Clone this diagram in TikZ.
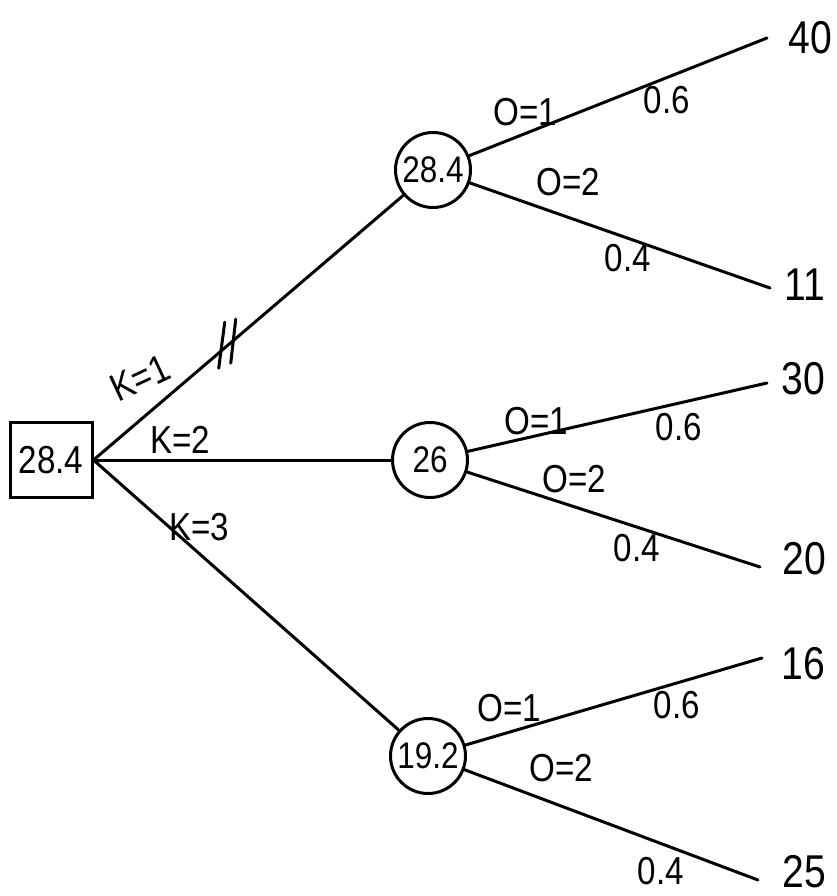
\documentclass[tikz,border=0pt]{standalone}
\usepackage{fontspec}
\setmainfont{Liberation Sans}[FakeStretch=0.85]
\begin{document}
\begin{tikzpicture}[x=1pt,y=-1pt,
  ink/.style={line width=3pt, line cap=round, line join=round},
  chance/.style={circle, draw, line width=3pt, minimum size=75pt, inner sep=0pt, font=\fontsize{37}{40}\selectfont},
  decision/.style={rectangle, draw, line width=3pt, minimum width=82pt, minimum height=75pt, inner sep=0pt, font=\fontsize{39}{42}\selectfont},
  payoff/.style={inner sep=0pt, font=\fontsize{46}{50}\selectfont},
  lbl/.style={inner sep=0pt, font=\fontsize{39}{42}\selectfont},
]
\useasboundingbox (0,0) rectangle (837,896);

% decision node and chance nodes
\node[decision] (d) at (51,460) {28.4};
\node[chance] (c1) at (433,170) {28.4};
\node[chance] (c2) at (430,460) {26};
\node[chance] (c3) at (428,756) {19.2};

% branch ends
\coordinate (e11) at (767,38);
\coordinate (e12) at (770,288);
\coordinate (e21) at (767,383);
\coordinate (e22) at (760,567);
\coordinate (e31) at (762,658);
\coordinate (e32) at (758,880);

% payoffs
\node[payoff] (v11) at (810,38) {40};
\node[payoff] (v12) at (805,285) {11};
\node[payoff] (v21) at (803,379) {30};
\node[payoff] (v22) at (804,559) {20};
\node[payoff] (v31) at (803,664) {16};
\node[payoff] (v32) at (804,872) {25};

% decision branches
\draw[ink] (d.east) -- (c1) coordinate[pos=0.43] (m);
\draw[ink] (d.east) -- (c2);
\draw[ink] (d.east) -- (c3);

% double stroke on the K=1 branch
\draw[ink] ([shift={(-2,-24)}]m) -- ([shift={(-8,22)}]m);
\draw[ink] ([shift={(9,-27)}]m) -- ([shift={(4,17)}]m);

% decision labels
\node[lbl, rotate=25] (k1) at (140,378) {K=1};
\node[lbl] (k2) at (180,440) {K=2};
\node[lbl] (k3) at (199,527) {K=3};

% chance branches
\draw[ink] (c1) -- (e11);
\draw[ink] (c1) -- (e12);
\draw[ink] (c2) -- (e21);
\draw[ink] (c2) -- (e22);
\draw[ink] (c3) -- (e31);
\draw[ink] (c3) -- (e32);

% outcome labels and probabilities
\node[lbl] (o11) at (525,112) {O=1};
\node[lbl] (p11) at (667,100) {0.6};
\node[lbl] (o12) at (568,182) {O=2};
\node[lbl] (p12) at (628,258) {0.4};

\node[lbl] (o21) at (536,421) {O=1};
\node[lbl] (p21) at (679,427) {0.6};
\node[lbl] (o22) at (574,479) {O=2};
\node[lbl] (p22) at (637,548) {0.4};

\node[lbl] (o31) at (509,708) {O=1};
\node[lbl] (p31) at (677,705) {0.6};
\node[lbl] (o32) at (561,768) {O=2};
\node[lbl] (p32) at (661,871) {0.4};
\end{tikzpicture}
\end{document}
